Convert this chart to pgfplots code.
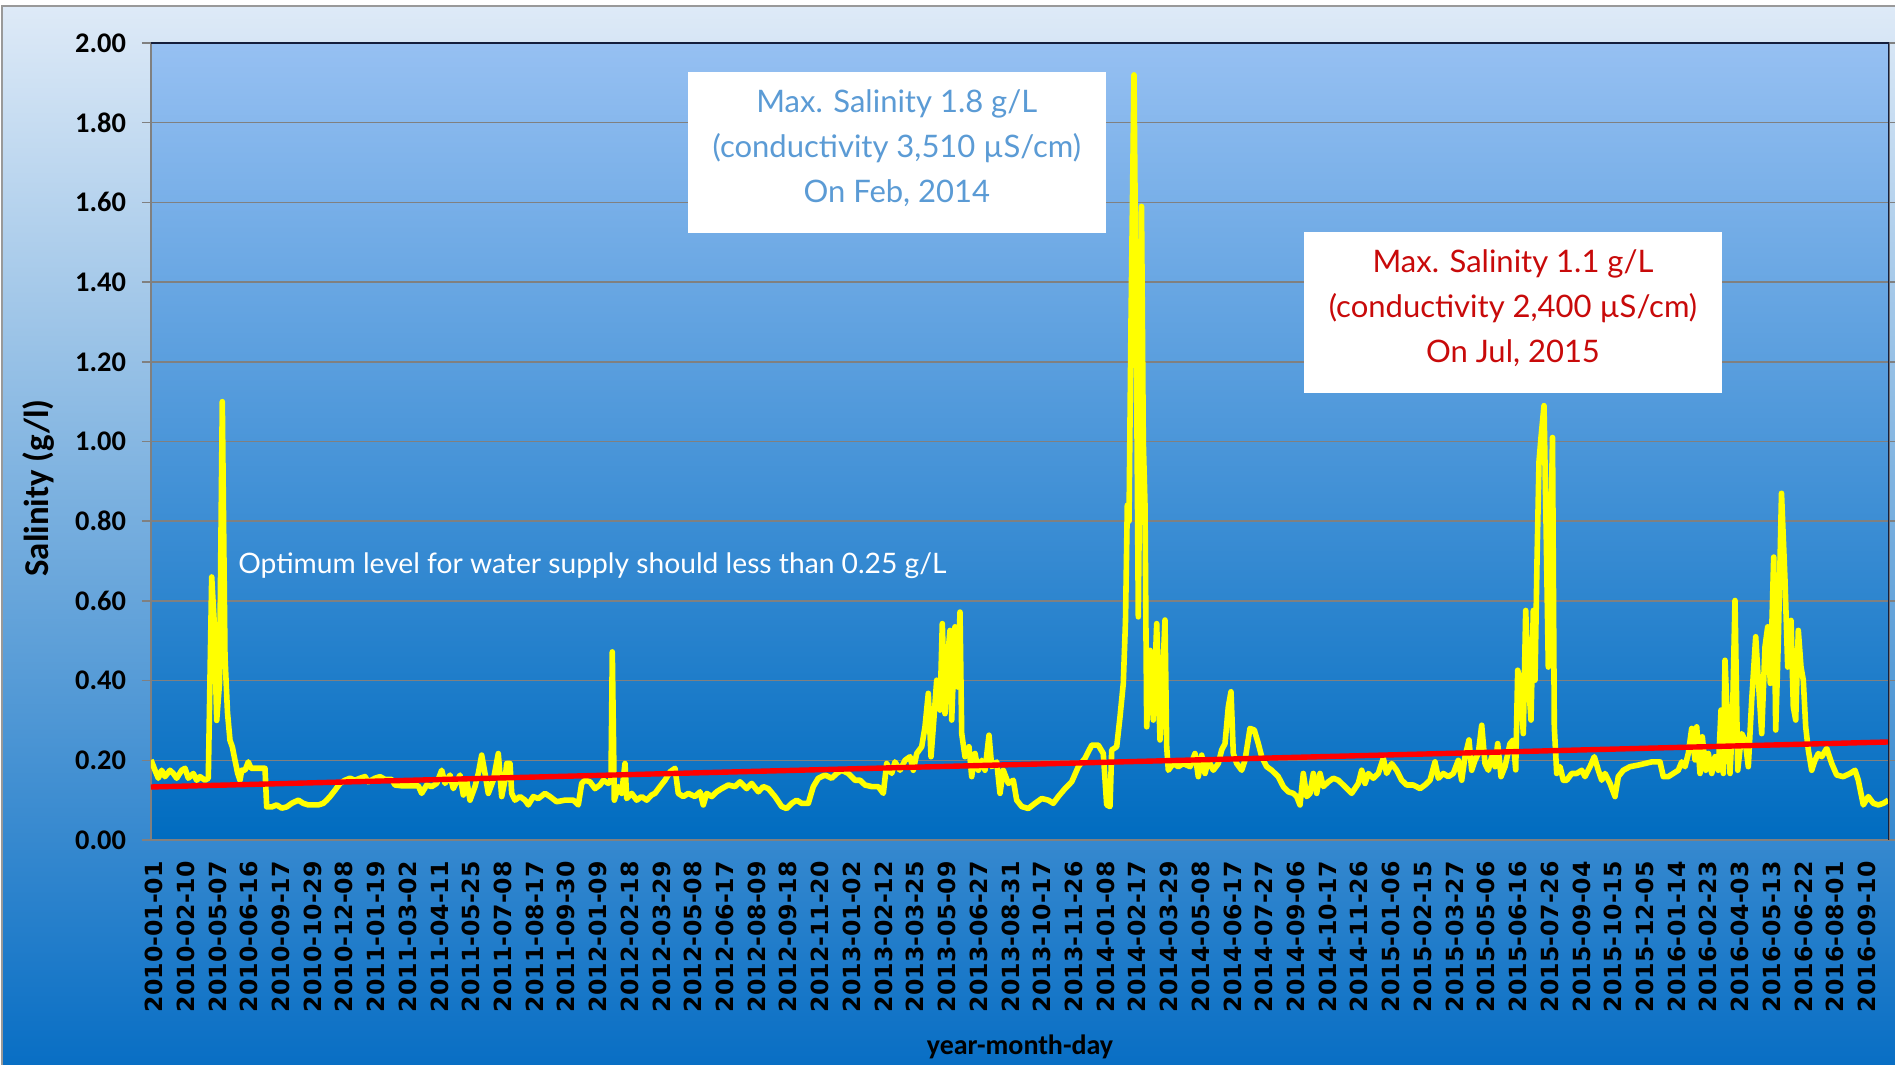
\documentclass[border=0pt]{standalone}
\usepackage{pgfplots}
\pgfplotsset{compat=1.18}
\usepackage{fontspec}
\setmainfont{Lato}
\newfontfamily\carlito{Carlito}
\newfontfamily\dejavu{DejaVu Sans}
\definecolor{gridgray}{RGB}{128,128,128}
\definecolor{outertop}{RGB}{222,234,247}
\definecolor{outerbot}{RGB}{8,110,196}
\definecolor{plottop}{RGB}{150,192,242}
\definecolor{plotbot}{RGB}{0,108,192}
\definecolor{boxblue}{RGB}{91,155,213}
\definecolor{boxred}{RGB}{200,10,10}
\definecolor{darkframe}{RGB}{20,30,60}
\definecolor{salyellow}{RGB}{255,255,0}
\begin{document}
\begin{tikzpicture}
\path[use as bounding box] (-75.5pt,-112.5pt) rectangle (872pt,420pt);
\fill[white] (-75.5pt,-112.5pt) rectangle (872pt,420pt);
\shade[top color=outertop, bottom color=outerbot] (-74.5pt,-114pt) rectangle (874pt,417pt);
\draw[gray!80, line width=0.8pt] (-74.5pt,-114pt) -- (-74.5pt,417pt) -- (874pt,417pt);
\begin{axis}[
  at={(0,0)}, anchor=south west,
  width=869pt, height=398.5pt, scale only axis,
  xmin=151, xmax=1889, ymin=0, ymax=2,
  axis background/.style={top color=plottop, bottom color=plotbot},
  axis line style={draw=gridgray, line width=0.75pt},
  ymajorgrids, grid style={gridgray, line width=0.75pt},
  ytick={0,0.2,0.4,0.6,0.8,1.0,1.2,1.4,1.6,1.8,2.0},
  /pgf/number format/assume math mode=true,
  yticklabel style={/pgf/number format/fixed, /pgf/number format/fixed zerofill, /pgf/number format/precision=2, font=\carlito\bfseries\fontsize{14.2}{15}\selectfont, xshift=-4.5pt},
  tick align=outside,
  ytick style={gridgray, line width=0.75pt},
  major tick length=4.5pt,
  xtick={154,185.72,...,1868},
  xtick style={draw=none},
  xticklabels={2010-01-01,2010-02-10,2010-05-07,2010-06-16,2010-09-17,2010-10-29,2010-12-08,2011-01-19,2011-03-02,2011-04-11,2011-05-25,2011-07-08,2011-08-17,2011-09-30,2012-01-09,2012-02-18,2012-03-29,2012-05-08,2012-06-17,2012-08-09,2012-09-18,2012-11-20,2013-01-02,2013-02-12,2013-03-25,2013-05-09,2013-06-27,2013-08-31,2013-10-17,2013-11-26,2014-01-08,2014-02-17,2014-03-29,2014-05-08,2014-06-17,2014-07-27,2014-09-06,2014-10-17,2014-11-26,2015-01-06,2015-02-15,2015-03-27,2015-05-06,2015-06-16,2015-07-26,2015-09-04,2015-10-15,2015-12-05,2016-01-14,2016-02-23,2016-04-03,2016-05-13,2016-06-22,2016-08-01,2016-09-10},
  xticklabel style={yshift=-2.6pt, rotate=90, anchor=east, font=\dejavu\bfseries\fontsize{11.8}{12.5}\selectfont, text=black},
  xlabel={year-month-day},
  ylabel={Salinity (g/l)},
  every axis x label/.style={at={(rel axis cs:0.5,0)}, anchor=center, yshift=-103.5pt, font=\carlito\bfseries\fontsize{14}{16}\selectfont},
  every axis y label/.style={at={(rel axis cs:-0.0647,0.4417)}, anchor=center, rotate=90, font=\carlito\bfseries\fontsize{17.4}{19}\selectfont},
]
\addplot[salyellow, line width=2.8pt, line join=round] coordinates {
(151.0,0.201) (155.0,0.175) (158.3,0.155) (161.7,0.175) (165.0,0.159) (170.0,0.175) (173.3,0.167) (176.7,0.155)
(181.7,0.175) (185.0,0.180) (188.3,0.155) (193.3,0.167) (196.7,0.150) (200.0,0.159) (205.0,0.150) (208.3,0.155)
(211.7,0.660) (214.3,0.543) (216.7,0.300) (219.5,0.393) (222.3,1.100) (225.0,0.460) (227.5,0.320) (230.0,0.250)
(232.3,0.234) (235.0,0.200) (237.7,0.167) (240.0,0.150) (241.7,0.175) (245.0,0.175) (248.3,0.196) (251.0,0.180)
(255.0,0.180) (260.0,0.180) (265.0,0.180) (266.7,0.083) (271.7,0.083) (276.7,0.088) (281.7,0.080) (286.7,0.083)
(291.7,0.092) (298.3,0.100) (303.3,0.092) (308.3,0.088) (313.3,0.088) (318.3,0.088) (323.3,0.092) (326.7,0.100)
(330.0,0.109) (335.0,0.125) (340.0,0.142) (345.0,0.150) (350.0,0.155) (355.0,0.150) (360.0,0.155) (365.0,0.159)
(368.3,0.146) (375.0,0.155) (380.0,0.159) (385.0,0.152) (391.7,0.152) (395.0,0.138) (401.7,0.136) (408.3,0.136)
(418.3,0.136) (421.7,0.117) (426.7,0.138) (431.7,0.134) (436.7,0.142) (441.7,0.175) (445.0,0.142) (450.0,0.163)
(453.3,0.129) (456.7,0.146) (460.0,0.163) (463.3,0.113) (466.7,0.150) (470.0,0.100) (475.0,0.134) (478.3,0.167)
(481.7,0.213) (485.0,0.167) (488.3,0.117) (493.3,0.150) (498.3,0.217) (501.7,0.109) (505.0,0.150) (506.7,0.192)
(510.0,0.192) (511.7,0.117) (515.0,0.100) (520.0,0.109) (525.0,0.100) (528.3,0.088) (533.3,0.109) (538.3,0.104)
(545.0,0.117) (550.0,0.109) (556.7,0.096) (565.0,0.100) (573.3,0.100) (578.3,0.088) (581.7,0.142) (585.0,0.150)
(590.0,0.146) (595.0,0.129) (600.0,0.138) (603.3,0.150) (608.3,0.142) (611.0,0.150) (612.3,0.472) (614.3,0.100)
(618.3,0.134) (621.7,0.117) (625.0,0.192) (626.7,0.104) (631.7,0.117) (636.7,0.100) (641.7,0.109) (646.7,0.100)
(651.7,0.113) (655.0,0.117) (660.0,0.134) (665.0,0.150) (670.0,0.171) (675.0,0.180) (678.3,0.117) (683.3,0.109)
(688.3,0.117) (695.0,0.109) (700.0,0.121) (703.3,0.088) (706.7,0.117) (711.7,0.109) (716.7,0.121) (721.7,0.129)
(728.3,0.138) (735.0,0.134) (740.0,0.146) (746.7,0.129) (751.7,0.142) (758.3,0.121) (763.3,0.134) (768.3,0.129)
(775.0,0.109) (781.7,0.084) (786.7,0.079) (791.7,0.092) (796.7,0.100) (801.7,0.092) (808.3,0.092) (813.3,0.134)
(818.3,0.155) (825.0,0.163) (831.7,0.155) (836.7,0.167) (841.7,0.175) (848.3,0.167) (855.0,0.150) (860.0,0.150)
(865.0,0.138) (871.7,0.134) (878.3,0.134) (883.3,0.117) (886.7,0.192) (891.7,0.167) (895.0,0.196) (900.0,0.175)
(905.0,0.200) (910.0,0.209) (913.3,0.175) (916.7,0.217) (921.7,0.234) (925.0,0.284) (928.3,0.368) (931.0,0.209)
(933.3,0.284) (936.7,0.401) (940.0,0.326) (942.3,0.543) (945.0,0.317) (947.7,0.460) (950.0,0.526) (951.7,0.301)
(955.0,0.535) (957.7,0.384) (960.0,0.572) (961.7,0.267) (965.0,0.209) (969.0,0.234) (971.7,0.159) (975.0,0.217)
(978.3,0.175) (981.7,0.200) (985.0,0.175) (989.0,0.263) (991.7,0.184) (996.7,0.196) (1000.0,0.117) (1003.3,0.175)
(1008.3,0.142) (1013.3,0.150) (1016.7,0.100) (1021.7,0.084) (1028.3,0.079) (1035.0,0.092) (1041.7,0.104) (1048.3,0.100)
(1053.3,0.092) (1058.3,0.109) (1065.0,0.129) (1071.7,0.146) (1078.3,0.184) (1085.0,0.205) (1091.7,0.238) (1098.3,0.238)
(1103.3,0.217) (1106.7,0.088) (1110.0,0.084) (1111.7,0.226) (1116.7,0.234) (1120.0,0.309) (1123.3,0.393) (1125.5,0.550)
(1127.3,0.840) (1129.0,0.800) (1131.0,1.300) (1134.0,1.920) (1136.5,1.200) (1138.3,0.560) (1140.0,1.000) (1141.5,1.590)
(1143.3,1.000) (1145.0,0.840) (1146.7,0.284) (1150.0,0.476) (1153.3,0.301) (1156.7,0.543) (1160.0,0.251) (1165.0,0.552)
(1166.7,0.234) (1168.3,0.175) (1173.3,0.192) (1178.3,0.184) (1183.3,0.192) (1190.0,0.184) (1195.0,0.217) (1198.3,0.159)
(1201.7,0.213) (1205.0,0.167) (1208.3,0.200) (1213.3,0.175) (1218.3,0.192) (1221.7,0.226) (1225.0,0.242) (1228.3,0.334)
(1231.0,0.372) (1233.3,0.217) (1236.7,0.192) (1241.7,0.175) (1245.0,0.200) (1250.0,0.280) (1254.3,0.276) (1258.3,0.242)
(1261.7,0.209) (1266.7,0.184) (1271.7,0.175) (1278.3,0.159) (1283.3,0.134) (1288.3,0.121) (1293.3,0.117) (1296.7,0.109)
(1300.0,0.088) (1303.3,0.167) (1306.7,0.109) (1310.0,0.117) (1313.3,0.167) (1316.7,0.117) (1320.0,0.167) (1323.3,0.134)
(1328.3,0.146) (1333.3,0.155) (1338.3,0.150) (1345.0,0.134) (1351.7,0.117) (1358.3,0.142) (1361.7,0.175) (1365.0,0.142)
(1368.3,0.167) (1373.3,0.155) (1378.3,0.167) (1383.3,0.205) (1386.7,0.167) (1391.7,0.192) (1396.7,0.175) (1401.7,0.150)
(1406.7,0.138) (1413.3,0.138) (1420.0,0.129) (1425.0,0.138) (1430.0,0.150) (1435.0,0.196) (1438.3,0.155) (1443.3,0.167)
(1448.3,0.159) (1453.3,0.167) (1458.3,0.200) (1461.7,0.150) (1465.0,0.209) (1469.0,0.251) (1471.7,0.175) (1475.0,0.200)
(1478.3,0.217) (1481.7,0.288) (1485.0,0.192) (1488.3,0.175) (1491.7,0.209) (1495.0,0.184) (1497.7,0.242) (1501.0,0.159)
(1505.0,0.184) (1510.0,0.242) (1513.3,0.251) (1515.7,0.176) (1517.7,0.426) (1520.0,0.401) (1523.3,0.267) (1525.7,0.576)
(1528.3,0.401) (1531.0,0.301) (1533.3,0.576) (1535.0,0.401) (1537.0,0.700) (1539.0,0.950) (1541.0,1.010) (1544.0,1.090)
(1546.0,0.800) (1548.3,0.434) (1550.3,0.700) (1552.5,1.010) (1554.3,0.284) (1556.7,0.167) (1560.0,0.184) (1563.3,0.150)
(1566.7,0.150) (1571.7,0.167) (1576.7,0.167) (1581.7,0.175) (1585.0,0.159) (1590.0,0.184) (1594.3,0.209) (1598.3,0.175)
(1601.7,0.150) (1605.0,0.167) (1610.0,0.142) (1615.0,0.109) (1618.3,0.159) (1623.3,0.175) (1630.0,0.184) (1638.3,0.188)
(1645.0,0.192) (1651.7,0.196) (1660.0,0.196) (1663.3,0.159) (1668.3,0.159) (1673.3,0.167) (1678.3,0.175) (1681.7,0.196)
(1685.0,0.184) (1688.3,0.217) (1691.7,0.280) (1695.0,0.201) (1696.7,0.284) (1700.0,0.167) (1702.3,0.259) (1705.7,0.175)
(1708.3,0.217) (1711.7,0.167) (1715.0,0.209) (1718.3,0.175) (1721.0,0.326) (1723.3,0.167) (1725.0,0.451) (1727.7,0.284)
(1730.0,0.167) (1732.3,0.284) (1735.0,0.601) (1737.7,0.175) (1741.7,0.267) (1745.0,0.251) (1748.3,0.184) (1751.7,0.351)
(1755.7,0.510) (1758.3,0.401) (1761.7,0.267) (1765.0,0.485) (1767.7,0.535) (1770.3,0.393) (1773.7,0.710) (1775.7,0.276)
(1778.3,0.500) (1781.5,0.870) (1785.0,0.651) (1787.7,0.434) (1791.0,0.551) (1793.3,0.334) (1795.7,0.301) (1798.3,0.526)
(1801.0,0.434) (1803.3,0.401) (1805.7,0.284) (1808.3,0.226) (1811.7,0.175) (1815.0,0.200) (1818.3,0.217) (1821.7,0.209)
(1826.7,0.230) (1831.7,0.192) (1836.7,0.163) (1843.3,0.159) (1850.0,0.167) (1855.0,0.175) (1858.3,0.150) (1863.3,0.088)
(1868.3,0.109) (1873.3,0.092) (1878.3,0.088) (1883.3,0.092) (1888.3,0.100)
};
\addplot[red, line width=2.7pt] coordinates {(151,0.133) (1889,0.246)};
\draw[darkframe, line width=1pt] (rel axis cs:0,1) -- (rel axis cs:1,1) -- (rel axis cs:1,0);
\node[fill=white, minimum width=209pt, minimum height=80.5pt, inner sep=0pt] at (axis cs:896.8,1.724) {};
\node[inner sep=0pt, align=center, text=boxblue, font=\fontsize{15.5}{22.4}\selectfont, yshift=2.4pt] at (axis cs:896.8,1.724) {Max. Salinity 1.8 g/L\\(conductivity 3,510 µS/cm)\\On Feb, 2014};
\node[fill=white, minimum width=209pt, minimum height=80.5pt, inner sep=0pt] at (axis cs:1513,1.3225) {};
\node[inner sep=0pt, align=center, text=boxred, font=\fontsize{15.5}{22.4}\selectfont, yshift=2.4pt] at (axis cs:1513,1.3225) {Max. Salinity 1.1 g/L\\(conductivity 2,400 µS/cm)\\On Jul, 2015};
\node[anchor=west, text=white, inner sep=0pt, font=\fontsize{14.1}{16}\selectfont] at (axis cs:238,0.6886) {Optimum level for water supply should less than 0.25 g/L};
\end{axis}
\end{tikzpicture}
\end{document}
